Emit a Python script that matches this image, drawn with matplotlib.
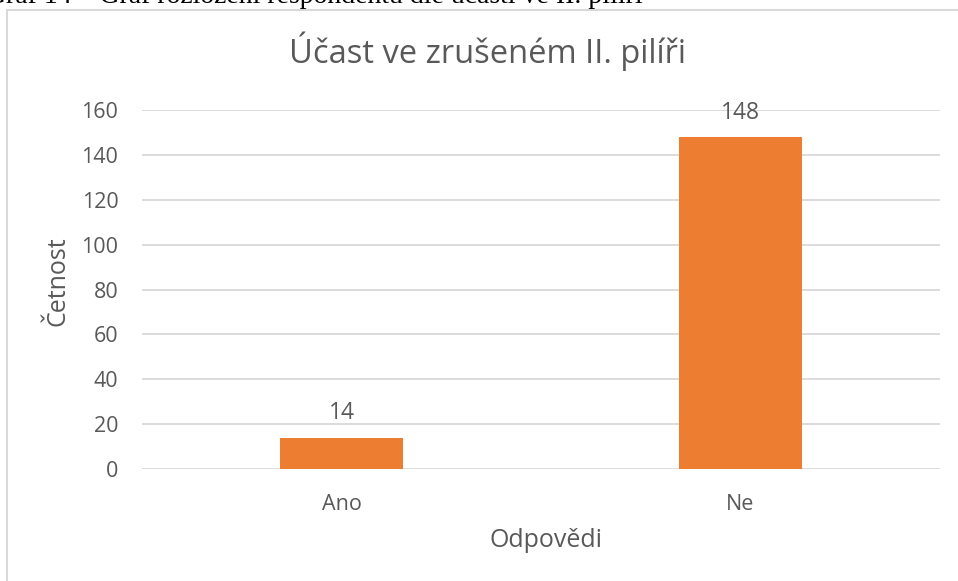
import matplotlib.pyplot as plt
from matplotlib.patches import Rectangle

categories = ["Ano", "Ne"]
counts = [14, 148]
yticks = [0, 20, 40, 60, 80, 100, 120, 140, 160]

title = "Účast ve zrušeném II. pilíři"
caption = "Graf 14 – Graf rozložení respondentů dle účasti ve II. pilíři"

text_col = "#595959"
bar_col = "#ED7D31"
grid_col = "#D9D9D9"

plt.rcParams['font.family'] = ['Open Sans', 'DejaVu Sans']

fig = plt.figure(figsize=(9.58, 5.81), dpi=100)
W, H = 958, 581

# chart frame and the cut-off caption above it
frame = Rectangle((7 / W, -0.1), 1.1, 1 - 10 / H + 0.1, transform=fig.transFigure,
                  facecolor="white", edgecolor="#D9D9D9", linewidth=1.5, zorder=-10)
fig.patches.append(frame)
fig.text(-14 / W, 1 - 3 / H, caption, family="Liberation Serif", fontsize=20,
         color="black", ha="left", va="baseline")

ax = fig.add_axes([142 / W, (H - 469) / H, (940 - 142) / W, (469 - 110) / H])
ax.set_facecolor("none")
x = range(len(categories))
ax.bar(x, counts, width=0.31, color=bar_col, zorder=3)
for xi, v in zip(x, counts):
    ax.text(xi, v + 5.5, str(v), ha="center", va="bottom", fontsize=16.5, color=text_col)

ax.set_xlim(-0.5, 1.5)
ax.set_ylim(0, 160)
ax.set_yticks(yticks)
ax.set_xticks(list(x))
ax.set_xticklabels(categories)
ax.grid(axis="y", color=grid_col, linewidth=1.3, zorder=0)
for s in ax.spines.values():
    s.set_visible(False)
ax.tick_params(length=0, labelsize=15.5, labelcolor=text_col)
ax.tick_params(axis="y", pad=17)
ax.tick_params(axis="x", pad=18)

ax.set_ylabel("Četnost", fontsize=18, color=text_col, va="center")
ax.yaxis.set_label_coords(-0.105, 0.524)
ax.set_xlabel("Odpovědi", fontsize=18, color=text_col, va="center")
ax.xaxis.set_label_coords(0.506, -0.198)

fig.text(487 / W, 1 - 63 / H, title, fontsize=23.5, color=text_col,
         ha="center", va="baseline")

fig.savefig("out.png", dpi=100)
